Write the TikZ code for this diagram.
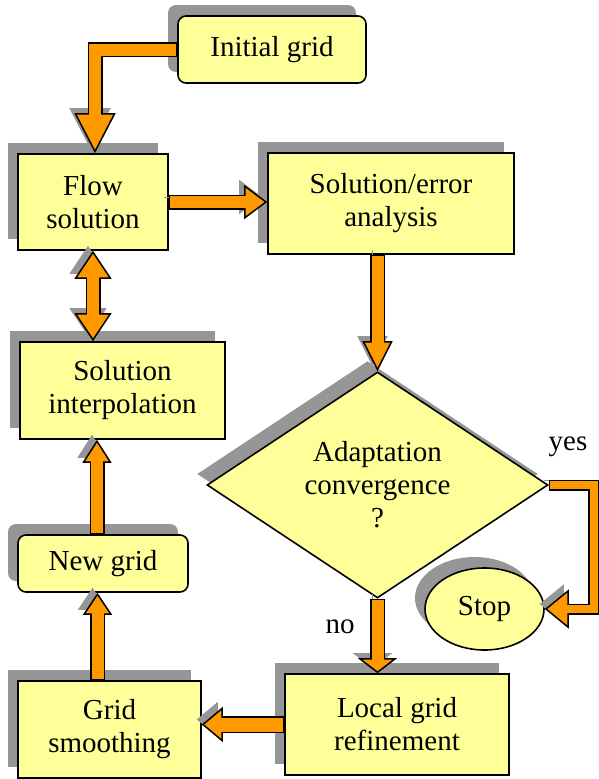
\documentclass[tikz,border=0pt]{standalone}
\usepackage{fontspec}
\setmainfont{Liberation Serif}
\usetikzlibrary{arrows.meta,shapes.geometric,shadows,calc}
\definecolor{adpAmarillo}{HTML}{FFFF99}
\definecolor{adpNaranja}{HTML}{FF9900}
\definecolor{adpGris}{HTML}{969696}

\begin{document}
\begin{tikzpicture}[x=1pt, y=-1pt,
      every node/.style={align=center, font=\fontsize{29}{33}\selectfont},
      b/.style={draw, line width=1.6pt, fill=adpAmarillo, inner sep=0pt,
                drop shadow={shadow xshift=-10pt, shadow yshift=11pt,
                             fill=adpGris, opacity=1}},
      f/.style n args={3}{line width=#1, draw=black,
                -{Triangle[width=#2, length=#3, line width=1.5pt, fill=adpNaranja]},
                preaction={draw=adpGris, -{Triangle[width=#2, length=#3, line width=1.5pt]},
                           transform canvas={shift={(-5pt,5pt)}}},
                postaction={draw=adpNaranja, line width=#1-3pt, -,
                            shorten >=#3-2pt, shorten <=1pt}},
      fd/.style n args={3}{line width=#1, draw=black,
                {Triangle[width=#2, length=#3, line width=1.5pt, fill=adpNaranja]}-{Triangle[width=#2, length=#3, line width=1.5pt, fill=adpNaranja]},
                preaction={draw=adpGris,
                           {Triangle[width=#2, length=#3, line width=1.5pt]}-{Triangle[width=#2, length=#3, line width=1.5pt]},
                           transform canvas={shift={(-5pt,5pt)}}},
                postaction={draw=adpNaranja, line width=#1-3pt, -,
                            shorten >=#3-2pt, shorten <=#3-2pt}}]
    \useasboundingbox (0,0) rectangle (598,779);
    \node[b, rounded corners=8pt, minimum width=188, minimum height=67] (init) at (272,49.5) {Initial grid};
    \node[b, minimum width=150, minimum height=96]  (flow)   at (93,202)     {Flow\\solution};
    \node[b, minimum width=246, minimum height=101] (err)    at (391,203.5)  {Solution/error\\analysis};
    \node[b, diamond, aspect=1.5, minimum width=341, minimum height=226] (conv) at (377.5,485) {Adaptation\\convergence\\?};
    \node[b, ellipse, minimum width=119, minimum height=82] (stop) at (484.5,609) {Stop};
    \node[b, minimum width=205, minimum height=97]  (interp) at (122.5,390.5) {Solution\\interpolation};
    \node[b, rounded corners=8pt, minimum width=170, minimum height=57] (new) at (103,563.5) {New grid};
    \node[b, minimum width=183, minimum height=97]  (smooth) at (109.5,729.5) {Grid\\smoothing};
    \node[b, minimum width=224, minimum height=101] (local)  at (397,724.5)  {Local grid\\refinement};
    \node (yes) at (568,447) {yes};
    \node (no)  at (340,627) {no};

    \draw[f={15pt}{41pt}{40pt}] (init.west) -| ([xshift=2pt]flow.north);
    \draw[f={15pt}{34pt}{23pt}] (flow.east) -- (flow.east -| err.west);
    \draw[f={15pt}{30pt}{30pt}] (err.south -| conv.north) -- (conv.north);
    \draw[fd={15pt}{37pt}{28pt}] (flow.south) -- (flow.south |- interp.north);
    \draw[f={15pt}{29pt}{23pt}] ([xshift=-6pt]new.north) -- ([xshift=-6pt]new.north |- interp.south);
    \draw[f={15pt}{29pt}{22pt}] ([xshift=-12pt]smooth.north) -- ([xshift=-12pt]smooth.north |- new.south);
    \draw[f={17pt}{35pt}{21pt}] (local.west) -- (local.west -| smooth.east);
    \draw[f={15pt}{39pt}{15pt}] (conv.south) -- (conv.south |- local.north);
    \draw[f={11pt}{39pt}{24pt}] (conv.east) -- ++(45,0) |- (stop.east);
  \end{tikzpicture}
\end{document}
